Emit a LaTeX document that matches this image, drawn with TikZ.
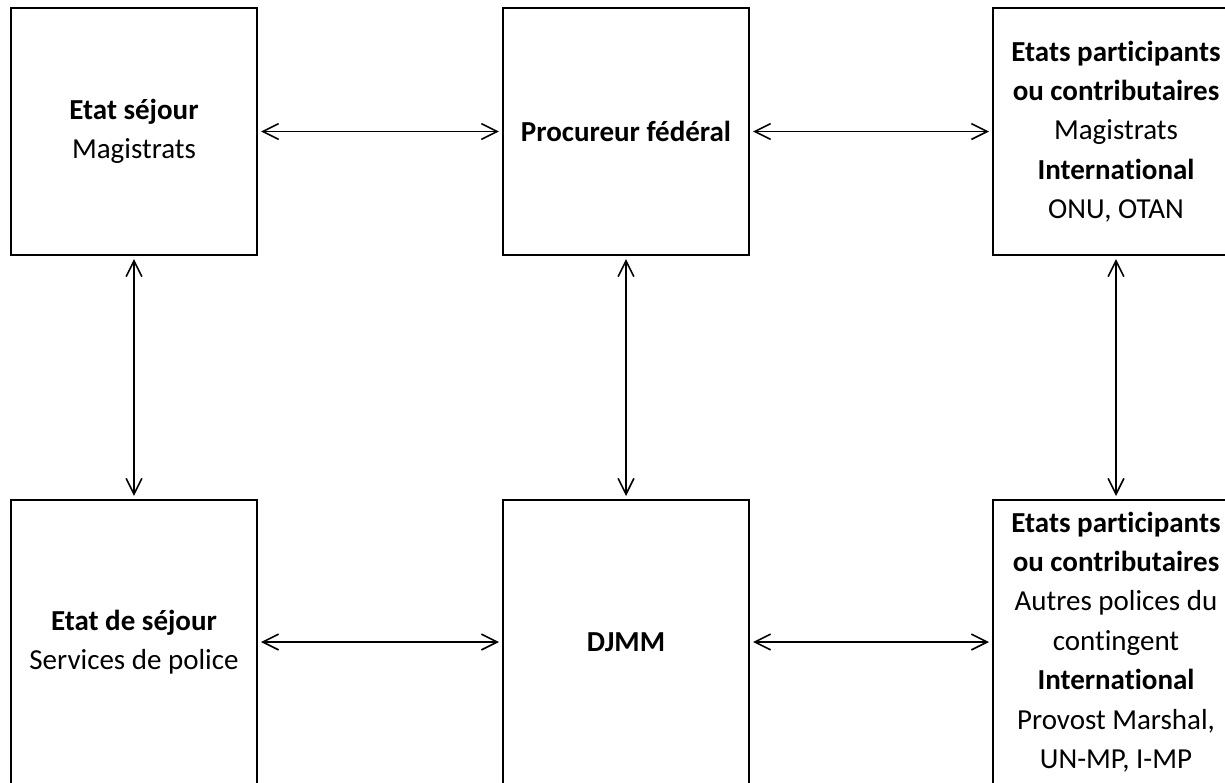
\documentclass[tikz,border=0pt]{standalone}
\usepackage{fontspec}
\setmainfont[Ligatures={NoCommon}]{Carlito}
\usepackage{tikz}
\usetikzlibrary{positioning, arrows.meta, calc}

\begin{document}
\begin{tikzpicture}[
    x = 0.02cm,
    y = -0.02cm,
    > = {Straight Barb[length=9pt,width=9pt]},
    shorten > = 1.5pt,
    shorten < = 1.5pt,
    box/.style = {draw, line width=1.6pt, minimum width=4.92cm,
        align=center, inner sep=0pt,
        font=\fontsize{16.5}{22.4}\selectfont},
    link/.style = {<->, line width=0.9pt}
]

% 1. Fix the page to the size of the picture
\useasboundingbox (0,0) rectangle (1225,782);
\clip (0,0) rectangle (1225,782);

% 2. Upper row of boxes
\node[box, minimum height=4.94cm] (sejour) at (134, 131.5)
    {\textbf{Etat séjour}\\Magistrats};
\node[box, minimum height=4.94cm] (procureur) at (626, 131.5)
    {\textbf{Procureur fédéral}};
\node[box, minimum height=4.94cm] (etats) at (1116, 131.5)
    {\textbf{Etats participants}\\\textbf{ou contributaires}\\Magistrats\\
     \textbf{International}\\ONU, OTAN};

% 3. Lower row of boxes
\node[box, minimum height=5.68cm] (police) at (134, 642)
    {\textbf{Etat de séjour}\\Services de police};
\node[box, minimum height=5.68cm] (djmm) at (626, 642)
    {\textbf{DJMM}};
\node[box, minimum height=5.68cm] (contingent) at (1116, 642)
    {\textbf{Etats participants}\\\textbf{ou contributaires}\\Autres polices du\\
     contingent\\\textbf{International}\\Provost Marshal,\\UN-MP, I-MP};

% 4. Two-way links between the boxes
\draw[link] (sejour) -- (procureur);
\draw[link] (procureur) -- (etats);
\draw[link] (police) -- (djmm);
\draw[link] (djmm) -- (contingent);

\draw[link] (sejour) -- (police);
\draw[link] (procureur) -- (djmm);
\draw[link] (etats) -- (contingent);

\end{tikzpicture}
\end{document}
